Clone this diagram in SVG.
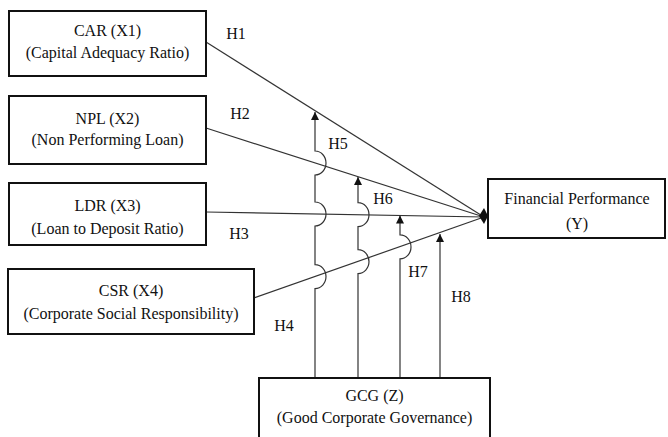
<svg xmlns="http://www.w3.org/2000/svg" width="668" height="437" viewBox="0 0 668 437">
<style>
.box{fill:#fff;stroke:#111;stroke-width:2}
.t{font-family:"Liberation Serif","Times New Roman",serif;font-size:16px;fill:#111;text-anchor:middle}
.c{fill:none;stroke:#333;stroke-width:1.2}
</style>
<defs>
<marker id="ah" viewBox="0 0 10 10" refX="10" refY="5" markerWidth="11" markerHeight="8" markerUnits="userSpaceOnUse" orient="auto">
<path d="M0,0 L10,5 L0,10 z" fill="#111"/>
</marker>
</defs>
<rect width="668" height="437" fill="#fff"/>
<g id="connectors">
<path class="c" d="M206,42 L484,217"/>
<path class="c" d="M206,128 L484,217"/>
<path class="c" d="M206,212 L484,217"/>
<path class="c" d="M254,298 L484,217"/>
<polygon points="479,216 484,208 488,216 484,224" fill="#111"/>
<path class="c" marker-end="url(#ah)" d="M315,378 V288.6 A11,12 0 0 0 315,264.6 V226 A11,12 0 0 0 315,202 V175 A11,12 0 0 0 315,151 V112"/>
<path class="c" marker-end="url(#ah)" d="M358,378 V273.6 A11,12 0 0 0 358,249.6 V226.7 A11,12 0 0 0 358,202.7 V177"/>
<path class="c" marker-end="url(#ah)" d="M400,378 V258.9 A11,12 0 0 0 400,234.9 V215.5"/>
<path class="c" marker-end="url(#ah)" d="M440,378 V234"/>
</g>
<g id="labels">
<text class="t" x="236" y="39">H1</text>
<text class="t" x="240" y="119">H2</text>
<text class="t" x="239" y="239">H3</text>
<text class="t" x="284" y="331">H4</text>
<text class="t" x="338" y="149">H5</text>
<text class="t" x="383" y="204">H6</text>
<text class="t" x="418" y="277">H7</text>
<text class="t" x="461" y="302">H8</text>
</g>
<g id="car">
<rect class="box" x="9" y="11" width="197" height="65"/>
<text class="t" x="107.5" y="36">CAR (X1)</text>
<text class="t" x="107.5" y="58">(Capital Adequacy Ratio)</text>
</g>
<g id="npl">
<rect class="box" x="9" y="96" width="197" height="68"/>
<text class="t" x="107.5" y="124">NPL (X2)</text>
<text class="t" x="107.5" y="145">(Non Performing Loan)</text>
</g>
<g id="ldr">
<rect class="box" x="9" y="183" width="197" height="62"/>
<text class="t" x="107.5" y="211">LDR (X3)</text>
<text class="t" x="107.5" y="234">(Loan to Deposit Ratio)</text>
</g>
<g id="csr">
<rect class="box" x="8" y="269" width="246" height="65"/>
<text class="t" x="131" y="296">CSR (X4)</text>
<text class="t" x="131" y="319">(Corporate Social Responsibility)</text>
</g>
<g id="fp">
<rect class="box" x="488" y="179" width="177" height="59"/>
<text class="t" x="577" y="204">Financial Performance</text>
<text class="t" x="577" y="229">(Y)</text>
</g>
<g id="gcg">
<rect class="box" x="259" y="378" width="231" height="70"/>
<text class="t" x="374.5" y="401">GCG (Z)</text>
<text class="t" x="374.5" y="423">(Good Corporate Governance)</text>
</g>
</svg>
